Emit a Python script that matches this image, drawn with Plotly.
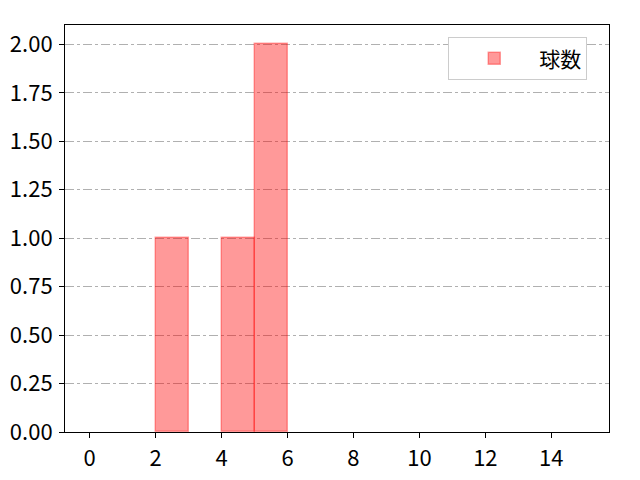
import plotly.graph_objects as go

# histogram bins (left edges) and counts
bin_edges = list(range(0, 16))
counts = [0, 0, 1, 0, 1, 2, 0, 0, 0, 0, 0, 0, 0, 0, 0]
series_name = "球数"

# only draw bins that have something in them (empty bins leave a stray edge line)
x_centers = [(bin_edges[i] + bin_edges[i + 1]) / 2 for i in range(len(counts)) if counts[i] > 0]
y_vals = [c for c in counts if c > 0]

fig = go.Figure()
fig.add_trace(go.Bar(
    x=x_centers, y=y_vals, width=1, name=series_name,
    marker=dict(color="rgba(255,0,0,0.4)", line=dict(color="rgba(255,0,0,0.35)", width=1.5)),
    showlegend=True,
))

fig.update_xaxes(
    range=[-0.75, 15.75], tickvals=list(range(0, 15, 2)),
    showline=True, linecolor="black", linewidth=1, mirror=True,
    ticks="outside", ticklen=5, tickcolor="black", showgrid=False, zeroline=False,
    automargin=False, ticklabelstandoff=2,
)
fig.update_yaxes(
    range=[0, 2.1], tick0=0, dtick=0.25, tickformat=".2f",
    showline=True, linecolor="black", linewidth=1, mirror=True,
    ticks="outside", ticklen=5, tickcolor="black",
    showgrid=True, gridcolor="#b0b0b0", griddash="dashdot", gridwidth=1, zeroline=False,
    automargin=False, ticklabelstandoff=2,
)
# page body has an 8px margin, so shift the plot box back by that much
fig.update_layout(
    width=640, height=480,
    margin=dict(l=57, r=39, t=17, b=56),
    plot_bgcolor="white", paper_bgcolor="white",
    font=dict(family="Noto Sans CJK JP", size=22, color="black"),
    legend=dict(x=0.96, y=0.97, xanchor="right", yanchor="top",
                bordercolor="#cccccc", borderwidth=1, bgcolor="white",
                font=dict(size=21), itemwidth=80),
    bargap=0,
)
fig.write_html("out.html")
